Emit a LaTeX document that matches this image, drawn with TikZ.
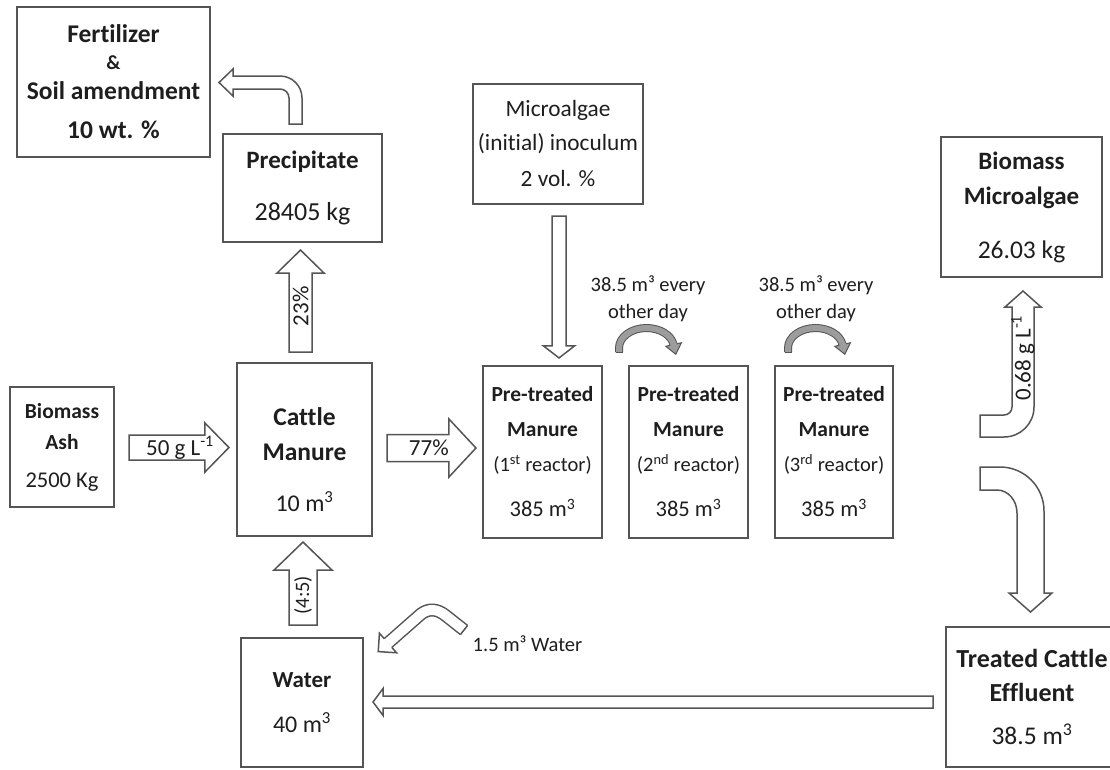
\documentclass[tikz,border=0pt]{standalone}
\usepackage{fontspec}
\setmainfont{Carlito}[Ligatures=NoCommon]
\usetikzlibrary{calc}
\definecolor{ink}{HTML}{1E1E1E}
\definecolor{edge}{HTML}{555555}
\definecolor{shade}{HTML}{9C9C9C}

% bold heading line and plain line inside a box, with their own sizes
\newcommand\hd[2][21.5]{{\fontsize{#1}{35}\selectfont\bfseries #2}}
\newcommand\rg[2][22.5]{{\fontsize{#1}{35}\selectfont #2}}

% straight block arrow: tail, tip, shaft half width, head half width,
% head length, label position (fraction), label options, label text
\newcommand\blockarrow[8]{%
  \coordinate (ba-h) at ($(#2)!#5!(#1)$);
  \draw[flow] ($(#1)!#3!90:(#2)$) -- ($(ba-h)!#3!90:(#2)$) -- ($(ba-h)!#4!90:(#2)$) -- (#2)
     -- ($(ba-h)!#4!-90:(#2)$) -- ($(ba-h)!#3!-90:(#2)$) -- ($(#1)!#3!-90:(#2)$) -- cycle;
  \node[arrowlabel,#7] at ($(#1)!#6!(#2)$) {#8};}

% head for a bent shaft: base point, point behind the base, shaft half width,
% head half width, head length, style
\newcommand\arrowhead[6]{%
  \path[#6] ($(#1)!#3!90:(#2)$) -- ($(#1)!#4!90:(#2)$) -- ($(#1)!-#5!(#2)$)
     -- ($(#1)!#4!-90:(#2)$) -- ($(#1)!#3!-90:(#2)$);}

% closing line across the tail of a bent shaft
\newcommand\tailcap[4]{%
  \draw[#4, line cap=square] ($(#1)!#3!90:(#2)$) -- ($(#1)!#3!-90:(#2)$);}

\begin{document}
\begin{tikzpicture}[x=1pt, y=1pt,
  box/.style={draw=edge, line width=2.1pt, fill=white, inner sep=0pt, align=center,
              text=ink, font=\fontsize{22.5}{35}\selectfont},
  boxtext/.style={inner sep=0pt, align=center, text=ink, font=\fontsize{22.5}{35}\selectfont},
  flow/.style={draw=edge, line width=1.5pt, fill=white, line join=miter},
  flowline/.style={draw=edge, line width=1.5pt},
  smallflow/.style={draw=edge, line width=1pt, double=shade, double distance=6pt},
  smallhead/.style={draw=edge, line width=1pt, fill=shade, line join=miter},
  arrowlabel/.style={inner sep=0pt, text=ink, font=\fontsize{20.5}{24}\selectfont},
  biglabel/.style={arrowlabel, font=\fontsize{23}{24}\selectfont}]

\fill[white] (0,0) rectangle (1110,-769);
\useasboundingbox (0,0) rectangle (1110,-769);

% ---------- boxes ----------
\node[box, minimum width=193pt, minimum height=150pt] (fert) at (113.5,-82)
  {\hd[25.5]{Fertilizer}\\[-8pt]\hd[20]{\&}\\[-5pt]\hd[25.5]{Soil amendment}\\[4pt]\hd[25.5]{10 wt. \%}};
\node[box, minimum width=159pt, minimum height=108pt] (prec) at (302.5,-188)
  {\hd[25]{Precipitate}\\[17pt]\rg[26]{28405 kg}};
\node[box, minimum width=104pt, minimum height=120pt] (ash) at (62,-447)
  {\hd{Biomass}\\[-4pt]\hd{Ash}\\[3pt]2500 Kg};
\node[box, minimum width=135pt, minimum height=173pt] (cm) at (304.5,-449.5) {};
\node[boxtext] (cmtext) at ($(cm.center)+(0,-10.5)$)
  {\hd[25.5]{Cattle}\\\hd[25.5]{Manure}\\[16pt]\rg[24]{10 m\textsuperscript{3}}};
\node[box, minimum width=122pt, minimum height=129pt] (water) at (302,-702.5)
  {\hd[23]{Water}\\[10pt]\rg[24]{40 m\textsuperscript{3}}};
\node[box, minimum width=170pt, minimum height=120pt] (micro) at (558,-144)
  {\rg[23.3]{Microalgae}\\[-1pt]\rg[23.3]{(initial) inoculum}\\[1pt]\rg[23.3]{2 vol. \%}};
\node[box, minimum width=119pt, minimum height=172pt] (r1) at (542.5,-452)
  {\hd{Pre-treated}\\\hd{Manure}\\\rg[20.5]{(1\textsuperscript{st} reactor)}\\[10pt]385 m\textsuperscript{3}};
\node[box, minimum width=119pt, minimum height=172pt] (r2) at (688.5,-452)
  {\hd{Pre-treated}\\\hd{Manure}\\\rg[20.5]{(2\textsuperscript{nd} reactor)}\\[10pt]385 m\textsuperscript{3}};
\node[box, minimum width=118pt, minimum height=172pt] (r3) at (834,-452)
  {\hd{Pre-treated}\\\hd{Manure}\\\rg[20.5]{(3\textsuperscript{rd} reactor)}\\[10pt]385 m\textsuperscript{3}};
\node[box, minimum width=161pt, minimum height=140pt] (bm) at (1021.5,-207)
  {\hd[25]{Biomass}\\\hd[25]{Microalgae}\\[19pt]\rg[25.5]{26.03 kg}};
\node[box, minimum width=172pt, minimum height=140pt] (tce) at (1032,-697)
  {\hd[26]{Treated Cattle}\\[-1pt]\hd[26]{Effluent}\\[8pt]\rg[25.5]{38.5 m\textsuperscript{3}}};

% ---------- straight block arrows ----------
\coordinate (ashout) at ($(ash.east)+(14,-0.5)$);
\coordinate (cmin)   at ($(cm.west |- ashout)+(-7,0)$);
\blockarrow{ashout}{cmin}{12.5pt}{24.5pt}{24pt}{0.51}{name=lab50, biglabel}{50 g L\textsuperscript{-1}}

\coordinate (cmout) at (387,-448);
\coordinate (r1in)  at ($(r1.west |- cmout)+(-6,0)$);
\blockarrow{cmout}{r1in}{13.5pt}{29pt}{27pt}{0.47}{name=lab77, biglabel}{77\%}

\coordinate (cmup)   at (300.5,-352);
\coordinate (precin) at ($(prec.south -| cmup)+(0,-7)$);
\blockarrow{cmup}{precin}{11.5pt}{23.5pt}{23pt}{0.45}{name=lab23, biglabel, rotate=90}{23\%}

\coordinate (waterup) at (303,-625);
\coordinate (cmbot)   at ($(cm.south -| waterup)+(0,-5)$);
\blockarrow{waterup}{cmbot}{14pt}{29pt}{28pt}{0.36}{name=lab45, rotate=90}{(4:5)}

\coordinate (microout) at ($(micro.south -| 559,0)+(0,-11)$);
\coordinate (r1top)    at ($(r1.north -| microout)+(0,7)$);
\blockarrow{microout}{r1top}{7pt}{15.5pt}{12pt}{0.5}{name=labinoc}{}

\coordinate (tceout)  at (933,-702);
\coordinate (waterin) at ($(water.east |- tceout)+(9,0)$);
\blockarrow{tceout}{waterin}{6pt}{13.5pt}{10pt}{0.5}{name=labret}{}

% ---------- bent block arrows ----------
% precipitate -> fertilizer
\draw[flow] (302,-124) -- (302,-98) arc[start angle=0, end angle=90, radius=22pt]
  -- (233,-76) -- (233,-69) -- (219,-82.5) -- (233,-96) -- (233,-89) -- (280,-89)
  arc[start angle=90, end angle=0, radius=9pt] -- (289,-124) -- cycle;

% third reactor -> biomass microalgae
\draw[flow] (980,-415) -- (1004,-415) arc[start angle=-90, end angle=0, radius=8pt]
  -- (1012,-307) -- (1005,-307) -- (1023,-291) -- (1041,-307) -- (1034,-307)
  -- (1034,-407) arc[start angle=0, end angle=-90, radius=30pt] -- (980,-437) -- cycle;
\node[biglabel, rotate=90] (lab068) at (1023,-358) {0.68 g L\textsuperscript{-1}};

% third reactor -> treated effluent
\draw[flow] (980,-467) -- (1000,-467) arc[start angle=90, end angle=0, radius=44pt]
  -- (1044,-593) -- (1052,-593) -- (1030.5,-612) -- (1009,-593) -- (1017,-593)
  -- (1017,-513) arc[start angle=0, end angle=90, x radius=20pt, y radius=23pt]
  -- (980,-490) -- cycle;

% fresh water make-up
\coordinate (wt)  at (464,-630);
\coordinate (wp1) at (445,-615);
\coordinate (wp2) at (421,-614);
\coordinate (wb)  at (388,-643);
\draw[flowline, double=white, double distance=10pt]
  (wt) -- (wp1) .. controls (437,-609) and (429,-608) .. (wp2) -- (wb);
\tailcap{wt}{wp1}{5.75pt}{flowline}
\arrowhead{wb}{wp2}{5.75pt}{13pt}{13pt}{flow}
\node[arrowlabel] (lab15) at (527.5,-644) {1.5 m³ Water};

% transfers between reactors
\draw[smallflow] (619,-352) -- (619,-348)
  arc[start angle=180, end angle=10, x radius=27.5pt, y radius=20pt] coordinate (e1b);
\coordinate (e1r) at ($(e1b)+(-2.2,9.75)$);
\tailcap{619,-352}{619,-348}{3.5pt}{draw=edge, line width=1pt}
\arrowhead{e1b}{e1r}{3.5pt}{8pt}{10pt}{smallhead}
\node[arrowlabel, align=center, font=\fontsize{20.5}{27}\selectfont] (every1) at (648,-298.5)
  {38.5 m³ every\\other day};

\draw[smallflow] (788,-352) -- (788,-348)
  arc[start angle=180, end angle=10, x radius=27.5pt, y radius=20pt] coordinate (e2b);
\coordinate (e2r) at ($(e2b)+(-2.2,9.75)$);
\tailcap{788,-352}{788,-348}{3.5pt}{draw=edge, line width=1pt}
\arrowhead{e2b}{e2r}{3.5pt}{8pt}{10pt}{smallhead}
\node[arrowlabel, align=center, font=\fontsize{20.5}{27}\selectfont] (every2) at (816,-298.5)
  {38.5 m³ every\\other day};
\end{tikzpicture}
\end{document}
